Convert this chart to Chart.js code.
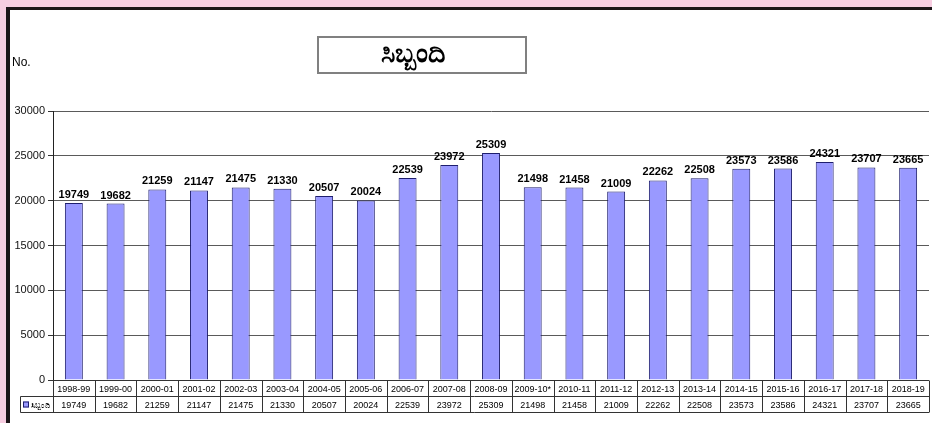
<!DOCTYPE html>
<html>
<head>
<meta charset="utf-8">
<script src="https://cdn.jsdelivr.net/npm/chart.js@4"></script>
<style>
  html, body { margin: 0; padding: 0; background: #f7cde1; overflow: hidden; }
  #frame {
    position: absolute; left: 6px; top: 7px; width: 940px; height: 430px;
    border-left: 4px solid #1c1418; border-top: 3px solid #1c1418; background: #fff;
  }
  #wrap { position: absolute; left: 0; top: 0; width: 932px; height: 423px; }
</style>
</head>
<body>
<div id="frame"></div>
<div id="wrap"><canvas id="myChart"></canvas></div>
<script>
// years shown on the table row under the bars
const categories = ['1998-99', '1999-00', '2000-01', '2001-02', '2002-03', '2003-04', '2004-05',
  '2005-06', '2006-07', '2007-08', '2008-09', '2009-10*', '2010-11', '2011-12', '2012-13',
  '2013-14', '2014-15', '2015-16', '2016-17', '2017-18', '2018-19'];
const staffCounts = [19749, 19682, 21259, 21147, 21475, 21330, 20507, 20024, 22539, 23972,
  25309, 21498, 21458, 21009, 22262, 22508, 23573, 23586, 24321, 23707, 23665];
const yTicks = [0, 5000, 10000, 15000, 20000, 25000, 30000];
const seriesName = 'ಸಿಬ್ಬಂದಿ';
const chartTitle = 'ಸಿಬ್ಬಂದಿ';
const yLabel = 'No.';

const barFill = '#9999ff';
const barEdge = '#1e1e6e';

// title box, "No." label, value labels and the data table below the axis
const extras = {
  id: 'extras',
  afterDraw(chart) {
    const ctx = chart.ctx;
    const area = chart.chartArea;
    const xs = chart.scales.x;
    const ys = chart.scales.y;
    const n = categories.length;
    const w = (area.right - area.left) / n;
    ctx.save();

    // title box
    ctx.strokeStyle = '#808080';
    ctx.lineWidth = 2;
    ctx.strokeRect(318, 37, 208, 36);
    ctx.fillStyle = '#000';
    ctx.font = 'bold 27px "Noto Sans", sans-serif';
    ctx.textAlign = 'center';
    ctx.textBaseline = 'middle';
    ctx.fillText(chartTitle, 413, 54);

    // axis caption
    ctx.font = '12px Arial, "Liberation Sans", sans-serif';
    ctx.textAlign = 'left';
    ctx.fillText(yLabel, 12, 63);

    // value labels above bars
    ctx.font = 'bold 11px Arial, "Liberation Sans", sans-serif';
    ctx.textAlign = 'center';
    ctx.textBaseline = 'alphabetic';
    staffCounts.forEach((v, i) => {
      ctx.fillText(String(v), xs.getPixelForValue(i), ys.getPixelForValue(v) - 5);
    });

    // data table
    const r0 = Math.round(area.bottom) + 0.5;
    const r1 = r0 + 16;
    const r2 = r1 + 16;
    const legLeft = 20.5;
    ctx.strokeStyle = '#333';
    ctx.lineWidth = 1;
    ctx.beginPath();
    ctx.moveTo(area.left, r0); ctx.lineTo(area.right, r0);
    ctx.moveTo(legLeft, r1); ctx.lineTo(area.right, r1);
    ctx.moveTo(legLeft, r2); ctx.lineTo(area.right, r2);
    ctx.moveTo(legLeft, r1); ctx.lineTo(legLeft, r2);
    for (let i = 0; i <= n; i++) {
      const bx = Math.round(area.left + i * w) + 0.5;
      ctx.moveTo(bx, r0); ctx.lineTo(bx, r2);
    }
    ctx.stroke();

    ctx.font = '9px Arial, "Liberation Sans", sans-serif';
    ctx.textBaseline = 'middle';
    ctx.textAlign = 'center';
    categories.forEach((c, i) => {
      const cx = area.left + (i + 0.5) * w;
      ctx.fillText(c, cx, (r0 + r1) / 2 + 1);
      ctx.fillText(String(staffCounts[i]), cx, (r1 + r2) / 2 + 1);
    });

    // legend key in the table
    ctx.fillStyle = barFill;
    ctx.fillRect(23, r1 + 5, 6, 6);
    ctx.strokeStyle = barEdge;
    ctx.strokeRect(23.5, r1 + 5.5, 5, 5);
    ctx.fillStyle = '#000';
    ctx.textAlign = 'left';
    ctx.font = '8px "Noto Sans", sans-serif';
    ctx.fillText(seriesName, 31, (r1 + r2) / 2 + 1);

    ctx.restore();
  }
};

const ctx = document.getElementById('myChart');
const myChart = new Chart(ctx, {
  type: 'bar',
  data: {
    labels: categories,
    datasets: [{
      label: seriesName,
      data: staffCounts,
      backgroundColor: barFill,
      borderColor: barEdge,
      borderWidth: 1,
      barPercentage: 0.43,
      categoryPercentage: 1,
    }],
  },
  options: {
    responsive: true,
    maintainAspectRatio: false,
    animation: false,
    layout: { padding: { top: 111, right: 3, bottom: 43, left: 0 } },
    scales: {
      x: { display: false },
      y: {
        min: 0,
        max: 30000,
        afterBuildTicks: (scale) => { scale.ticks = yTicks.map(v => ({ value: v })); },
        afterFit: (scale) => { scale.width = 53; },
        grid: { color: '#5a5a5a', tickLength: 5, tickColor: '#333' },
        border: { color: '#222' },
        ticks: {
          color: '#111',
          padding: 3,
          font: { family: 'Arial, "Liberation Sans", sans-serif', size: 11 },
          callback: (v) => String(v),
        },
      },
    },
    plugins: {
      legend: { display: false },
      tooltip: { enabled: false },
    },
  },
  plugins: [extras],
});
</script>
</body>
</html>
